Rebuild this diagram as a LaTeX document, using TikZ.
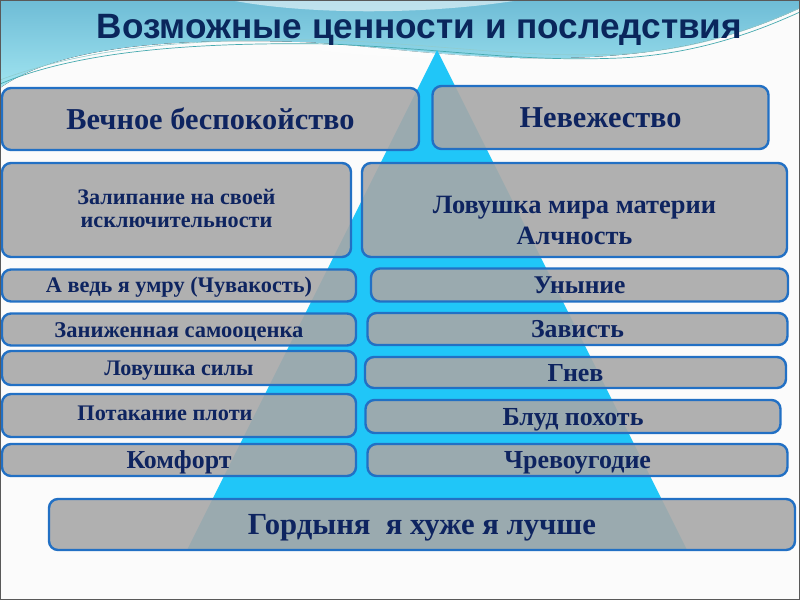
\documentclass[tikz,border=0pt]{standalone}
\usepackage{fontspec}
\setmainfont{Liberation Serif}
\newfontfamily\titlefont{Liberation Sans}
\definecolor{navy}{RGB}{14,36,96}
\definecolor{boxblue}{RGB}{34,112,196}
\definecolor{boxgray}{RGB}{168,168,168}
\definecolor{cyantri}{RGB}{32,198,248}
\definecolor{bgtop}{RGB}{110,188,214}
\definecolor{bgbot}{RGB}{160,228,240}
\definecolor{titlenavy}{RGB}{10,38,92}
\definecolor{wavel}{RGB}{70,170,175}
% one-line text scaled to a width, centred on its capitals
\newcommand\fw[2]{\resizebox{#1pt}{!}{\fontsize{20}{25}\selectfont\bfseries\raisebox{0pt}[13.4pt][0pt]{#2}}}
% two-line text scaled to a width
\newcommand\fwtwo[4]{\resizebox{#1pt}{!}{\fontsize{20}{#2}\selectfont\bfseries\begin{tabular}{@{}c@{}}#3\\#4\end{tabular}}}
% move drawn content down by #1 without changing its reported size
\newcommand\shiftdn[2]{\raisebox{-#1}[\height][\depth]{#2}}
\tikzset{
  box/.style={draw=boxblue, line width=2.4pt, fill=boxgray, fill opacity=0.9, text opacity=1,
    rounded corners=9pt, inner sep=0pt, text=navy, align=center},
}
\begin{document}
\begin{tikzpicture}[x=1pt,y=-1pt]
\useasboundingbox (0,0) rectangle (800,600);
% background
\fill[white!97!gray] (0,0) rectangle (800,600);
\fill[top color=bgtop, bottom color=bgbot]
  (0,0) -- (800,0) -- (800,8)
  .. controls (720,45) and (640,60) .. (520,58)
  .. controls (420,55) and (360,44) .. (300,42)
  .. controls (180,38) and (60,45) .. (0,88) -- cycle;
\fill[white, opacity=0.55] (230,0) .. controls (300,14) and (420,16) .. (520,0) -- cycle;
\fill[white, opacity=0.35] (300,42) .. controls (380,46) and (430,54) .. (520,58)
  .. controls (420,60) and (360,56) .. (300,48) -- cycle;
\draw[wavel, line width=0.7pt] (0,84) .. controls (80,50) and (200,42) .. (330,44)
  .. controls (460,50) and (520,62) .. (620,58) .. controls (700,54) and (760,30) .. (800,12);
\draw[wavel!60!white, line width=0.6pt] (0,80) .. controls (90,46) and (200,38) .. (330,40)
  .. controls (460,46) and (520,58) .. (620,54) .. controls (700,50) and (760,26) .. (800,8);
% title
\node[anchor=base, text=titlenavy] (title) at (419.5,38)
  {\resizebox{645pt}{!}{\titlefont\bfseries Возможные ценности и последствия}};
% pyramid
\fill[cyantri] (437,50) -- (687,550) -- (187,550) -- cycle;
% boxes
\node[box, minimum width=417pt, minimum height=62pt] (b1) at (210.5,119) {\fw{288}{Вечное беспокойство}};
\node[box, minimum width=336pt, minimum height=63pt] (b2) at (600.5,117.5) {\fw{162}{Невежество}};
\node[box, minimum width=349pt, minimum height=94pt] (b3) at (176.5,210) {\shiftdn{1pt}{\fwtwo{198}{21}{Залипание на своей}{исключительности}}};
\node[box, minimum width=425pt, minimum height=94pt] (b4) at (574.5,210) {\shiftdn{13pt}{\fwtwo{283}{23}{Ловушка мира материи}{Алчность}}};
\node[box, minimum width=354pt, minimum height=32pt] (b5) at (179,285.5) {\fw{266}{А ведь я умру (Чувакость)}};
\node[box, minimum width=417pt, minimum height=33pt] (b6) at (579.5,285) {\fw{92}{Уныние}};
\node[box, minimum width=354pt, minimum height=32pt] (b7) at (179,329.5) {\fw{249}{Заниженная самооценка}};
\node[box, minimum width=420pt, minimum height=32pt] (b8) at (577.5,329) {\fw{93}{Зависть}};
\node[box, minimum width=354pt, minimum height=34pt] (b9) at (179,368) {\fw{149}{Ловушка силы}};
\node[box, minimum width=421pt, minimum height=31pt] (b10) at (575.5,372.5) {\fw{56}{Гнев}};
\node[box, minimum width=354pt, minimum height=43pt] (b11) at (179,415.5) {\raisebox{2pt}[\height][\depth]{\fw{175}{Потакание плоти}}\hspace*{28pt}};
\node[box, minimum width=415pt, minimum height=33pt] (b12) at (573,416.5) {\fw{141}{Блуд похоть}};
\node[box, minimum width=354pt, minimum height=32pt] (b13) at (179,460) {\fw{105}{Комфорт}};
\node[box, minimum width=420pt, minimum height=32pt] (b14) at (577.5,460) {\fw{147}{Чревоугодие}};
\node[box, minimum width=746pt, minimum height=51pt] (b15) at (422,524.5) {\fw{348}{Гордыня\ \ я хуже я лучше}};
% frame
\draw[gray!70!black, line width=1pt] (0.5,0.5) rectangle (799.5,599.5);
\end{tikzpicture}
\end{document}
